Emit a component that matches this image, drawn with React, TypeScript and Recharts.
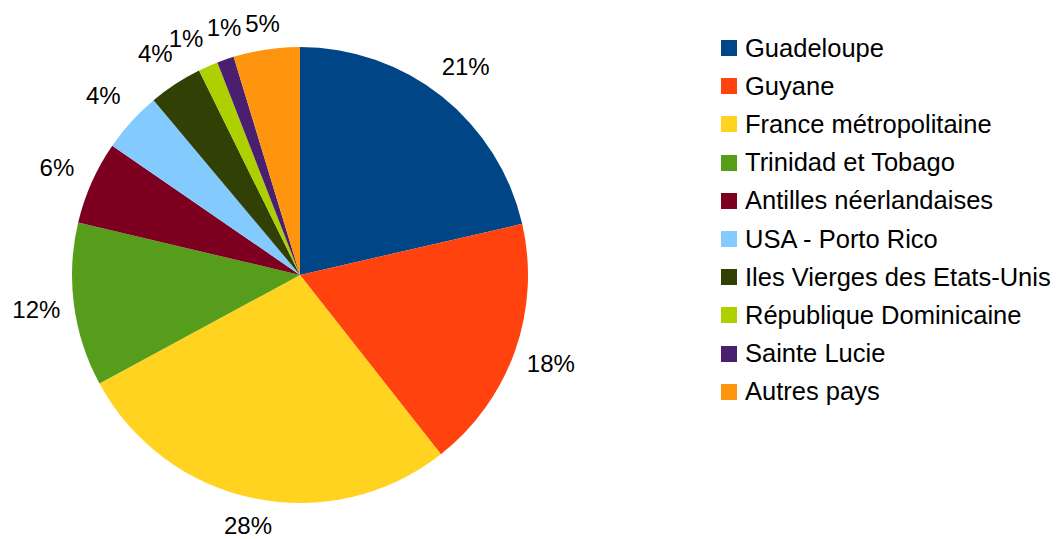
import { PieChart, Pie, Cell, Legend } from 'recharts';

const countries = [
  'Guadeloupe',
  'Guyane',
  'France métropolitaine',
  'Trinidad et Tobago',
  'Antilles néerlandaises',
  'USA - Porto Rico',
  'Iles Vierges des Etats-Unis',
  'République Dominicaine',
  'Sainte Lucie',
  'Autres pays',
];
const shares = [21.4, 18.0, 27.7, 11.6, 5.9, 4.3, 3.8, 1.4, 1.2, 4.7];
const colors = [
  '#004586',
  '#ff420e',
  '#ffd320',
  '#579d1c',
  '#7e0021',
  '#83caff',
  '#314004',
  '#aecf00',
  '#4b1f6f',
  '#ff950e',
];

const rows = countries.map((name, i) => ({ name, value: shares[i] }));
const FONT = '"Liberation Sans", Arial, sans-serif';
const RAD = Math.PI / 180;

function renderLabel(props: any) {
  const { cx, cy, midAngle, outerRadius, percent, index } = props;
  const text = `${Math.round(percent * 100)}%`;
  // spread neighbouring tiny slices so their labels don't collide
  let angle = midAngle;
  if (percent < 0.02) {
    if ((shares[index + 1] ?? 100) < 2) angle += 2;
    else if ((shares[index - 1] ?? 100) < 2) angle -= 2;
  }
  const dx = Math.cos(-angle * RAD);
  const dy = Math.sin(-angle * RAD);
  // labels sit a bit further out where they are wide relative to the direction
  const r = outerRadius + 23 + 15 * Math.min(1, 1.7 * Math.abs(dx));
  return (
    <text
      x={cx + dx * r}
      y={cy + dy * r}
      fill="#000"
      fontSize={24}
      fontFamily={FONT}
      textAnchor="middle"
      dominantBaseline="central"
    >
      {text}
    </text>
  );
}

function renderLegend() {
  return (
    <div style={{ fontFamily: FONT, fontSize: 25.5, color: '#000' }}>
      {rows.map((r, i) => (
        <div key={r.name} style={{ height: 38.2, display: 'flex', alignItems: 'center', whiteSpace: 'nowrap' }}>
          <span style={{ width: 16, height: 16, background: colors[i], marginRight: 8, display: 'inline-block' }} />
          {r.name}
        </div>
      ))}
    </div>
  );
}

export default function App() {
  return (
    <div style={{ position: 'absolute', left: 0, top: 0, background: '#fff' }}>
      <PieChart width={1061} height={539} margin={{ top: 0, right: 0, bottom: 0, left: 0 }}>
        <Pie
          data={rows}
          dataKey="value"
          nameKey="name"
          cx={300}
          cy={275}
          outerRadius={228}
          startAngle={90}
          endAngle={-270}
          stroke="none"
          label={renderLabel}
          labelLine={false}
          isAnimationActive={false}
        >
          {rows.map((r, i) => (
            <Cell key={r.name} fill={colors[i]} />
          ))}
        </Pie>
        <Legend
          content={renderLegend}
          layout="vertical"
          wrapperStyle={{ left: 721, top: 29, width: 340 }}
        />
      </PieChart>
    </div>
  );
}
